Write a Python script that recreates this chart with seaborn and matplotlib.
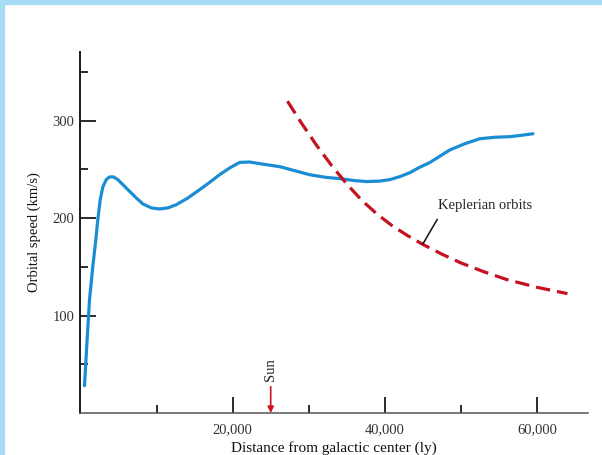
"""Galactic rotation curve vs Keplerian orbits"""
import matplotlib.pyplot as plt
import matplotlib.patches as mpatches
from matplotlib.ticker import FixedLocator, FuncFormatter
import seaborn as sns

rot_dist = [526, 920, 1184, 1618, 1974, 2276, 2592, 2934, 3382, 3816, 4342,
            4908, 5566, 6447, 7329, 8197, 9303, 10395, 11487, 12592, 14118,
            15658, 16974, 18289, 19605, 20921, 22237, 23553, 26200, 28150,
            30100, 32100, 34100, 36050, 37600, 39300, 40650, 41970, 43300,
            44600, 45900, 47240, 48550, 50530, 52500, 54470, 56450, 58030,
            59470]
rot_speed = [28, 82, 116.4, 150.6, 174.9, 198.5, 219, 232, 239.5, 242.3, 242.3,
             239.5, 234.4, 227.5, 220.7, 214.6, 210.5, 209.4, 210.5, 213.8, 220.7,
             229.2, 236.7, 244.6, 251.5, 257.2, 257.6, 255.9, 252.8, 248.7,
             244.6, 242, 240.5, 238.5, 237.5, 238, 239.5, 242.6, 246.7,
             252.3, 257, 263.6, 270, 276.4, 281.5, 283, 283.6, 285.1,
             286.6]

# keplerian curve (ly, km/s)
kep_dist = [27200, 29000, 31000, 33000, 35000, 37000, 39000, 41000, 43000,
            45000, 47500, 50000, 53000, 56000, 60000, 64000]
kep_speed = [320, 298, 275, 254, 235, 218, 204, 192, 182,
             173, 163, 154, 145, 137, 129, 122.5]

x_major = [20000, 40000, 60000]
x_minor = [10000, 30000, 50000]
y_major = [100, 200, 300]
y_minor = [50, 150, 250, 350]
sun_dist = 25000

sns.set_style("white")
plt.rcParams["font.family"] = ["Liberation Serif", "DejaVu Serif"]

fig = plt.figure(figsize=(6.02, 4.55), dpi=100)
fig.patch.set_facecolor("white")
# light blue frame on the left and top edges
border = "#a9dcf7"
fig.patches.append(mpatches.Rectangle((0, 0), 4 / 602, 1, transform=fig.transFigure,
                                      color=border, zorder=0))
fig.patches.append(mpatches.Rectangle((0, 1 - 4 / 455), 1, 4 / 455, transform=fig.transFigure,
                                      color=border, zorder=0))

ax = fig.add_axes([80.5 / 602, 42 / 455, 507.5 / 602, 361 / 455])
ax.set_facecolor("white")

sns.lineplot(x=rot_dist, y=rot_speed, ax=ax, color="#1b8ed3", lw=2.3)
sns.lineplot(x=kep_dist, y=kep_speed, ax=ax, color="#c4121f", lw=2.3,
             linestyle=(0, (4.5, 2.2)))

ax.set_xlim(0, 66700)
ax.set_ylim(0, 370.5)

for s in ["top", "right"]:
    ax.spines[s].set_visible(False)
ax.spines["left"].set_linewidth(1.4)
ax.spines["bottom"].set_linewidth(1.1)
ax.spines["left"].set_color("#1a1a1a")
ax.spines["bottom"].set_color("#555555")

ax.xaxis.set_major_locator(FixedLocator(x_major))
ax.xaxis.set_minor_locator(FixedLocator(x_minor))
ax.yaxis.set_major_locator(FixedLocator(y_major))
ax.yaxis.set_minor_locator(FixedLocator(y_minor))
ax.xaxis.set_major_formatter(FuncFormatter(lambda v, p: f"{int(v):,}"))
ax.tick_params(which="both", bottom=True, left=True)
ax.tick_params(which="major", direction="in", length=11.5, width=1.3,
               color="#1a1a1a", labelsize=10.5, labelcolor="#333333")
ax.tick_params(which="minor", direction="in", length=6, width=1.3, color="#1a1a1a")
ax.tick_params(axis="y", which="major", pad=4.5)
ax.tick_params(axis="x", which="major", pad=7)

ax.set_xlabel("Distance from galactic center (ly)", fontsize=11, color="#111111",
              labelpad=4)
ax.set_ylabel("Orbital speed (km/s)", fontsize=10.5, color="#111111", labelpad=8)

# Sun marker
ax.annotate("", xy=(sun_dist, 0), xytext=(sun_dist, 27),
            arrowprops=dict(arrowstyle="-|>", color="#d0141e", lw=1.2,
                            mutation_scale=9, shrinkA=0, shrinkB=0))
ax.text(sun_dist, 45, "Sun", rotation=90, ha="center", va="center",
        fontsize=10.5, color="#222222")

# Keplerian label
ax.annotate("Keplerian orbits", xy=(45000, 173.5), xytext=(47000, 212.5),
            fontsize=10.5, color="#222222", ha="left", va="center",
            arrowprops=dict(arrowstyle="-", color="#111111", lw=1.1,
                            shrinkA=3, shrinkB=0, relpos=(0.05, 0.2)))

fig.savefig("out.png", dpi=100)
